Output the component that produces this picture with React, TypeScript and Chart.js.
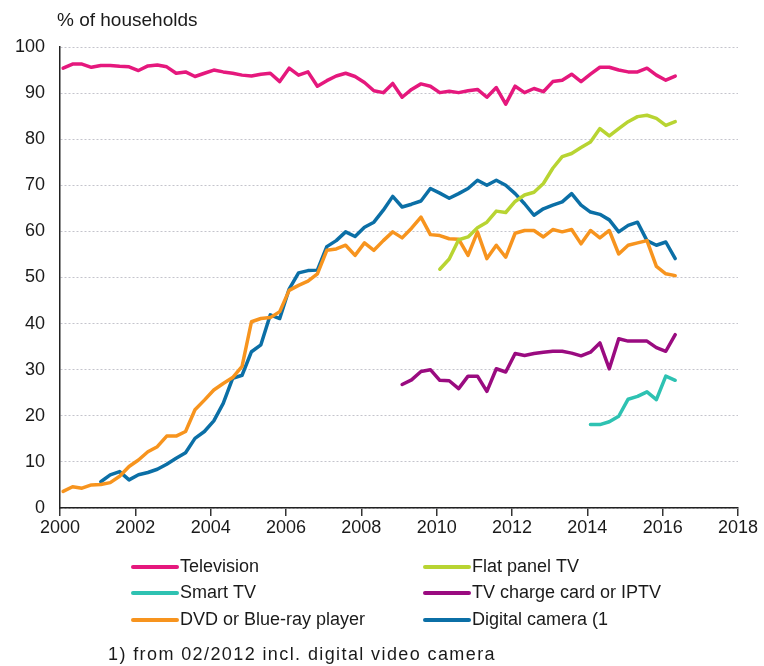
import React, { useEffect, useRef } from 'react';
import { Chart, registerables } from 'chart.js';

Chart.register(...registerables);

// ---- Data ----
const QUARTER_MONTHS = [2, 5, 8, 11];
const FIRST_YEAR = 2000;
const LAST_PERIOD = '2016-05';
const PERIODS: string[] = [];
for (let y = FIRST_YEAR; y <= 2016; y++) {
  for (const m of QUARTER_MONTHS) {
    const p = `${y}-${String(m).padStart(2, '0')}`;
    if (PERIODS.length && PERIODS[PERIODS.length - 1] === LAST_PERIOD) break;
    PERIODS.push(p);
  }
}

const X_TICKS = [2000, 2002, 2004, 2006, 2008, 2010, 2012, 2014, 2016, 2018];
const Y_TITLE = '% of households';
const FOOTNOTE = '1) from 02/2012 incl. digital video camera';

const televisionStart = '2000-02';
const television = [
  95.4, 96.3, 96.3, 95.6, 96.0, 96.0, 95.8, 95.7, 94.9, 95.9,
  96.1, 95.7, 94.3, 94.6, 93.6, 94.3, 95.0, 94.6, 94.3, 93.9,
  93.7, 94.1, 94.3, 92.5, 95.4, 93.9, 94.6, 91.5, 92.7, 93.7,
  94.3, 93.6, 92.3, 90.5, 90.1, 92.1, 89.1, 90.8, 92.0, 91.5,
  90.1, 90.4, 90.1, 90.5, 90.8, 89.1, 91.2, 87.6, 91.5, 90.1,
  91.0, 90.3, 92.5, 92.8, 94.1, 92.5, 94.1, 95.6, 95.6, 95.0,
  94.6, 94.6, 95.4, 93.9, 92.8, 93.7,
];

const flatPanelStart = '2010-02';
const flatPanel = [
  51.8, 54.0, 58.2, 58.8, 60.8, 62.0, 64.4, 64.1, 66.5, 67.9,
  68.5, 70.4, 73.7, 76.2, 76.9, 78.2, 79.4, 82.3, 80.7, 82.3,
  83.8, 84.9, 85.2, 84.5, 83.0, 83.8,
];

const smartTvStart = '2014-02';
const smartTv = [18.1, 18.1, 18.7, 19.9, 23.6, 24.2, 25.2, 23.5, 28.6, 27.7];

const chargeCardStart = '2009-02';
const chargeCard = [
  26.8, 27.8, 29.6, 30.0, 27.7, 27.6, 25.9, 28.6, 28.6, 25.3,
  30.2, 29.5, 33.5, 33.1, 33.5, 33.8, 34.0, 34.0, 33.6, 33.0,
  33.8, 35.8, 30.2, 36.7, 36.2, 36.2, 36.2, 34.8, 34.0, 37.6,
];

const dvdStart = '2000-02';
const dvd = [
  3.6, 4.6, 4.3, 5.0, 5.1, 5.5, 6.9, 9.0, 10.4, 12.2,
  13.3, 15.6, 15.6, 16.6, 21.3, 23.4, 25.6, 27.0, 28.3, 30.7,
  40.4, 41.1, 41.3, 42.6, 47.2, 48.3, 49.2, 50.8, 55.9, 56.2,
  57.0, 54.8, 57.5, 55.9, 58.0, 59.9, 58.6, 60.7, 63.1, 59.3,
  59.1, 58.4, 58.3, 54.8, 59.9, 54.1, 57.0, 54.4, 59.6, 60.2,
  60.2, 58.8, 60.4, 59.9, 60.4, 57.3, 60.2, 58.6, 60.2, 55.1,
  57.0, 57.5, 58.0, 52.4, 50.8, 50.4,
];

const cameraStart = '2001-02';
const camera = [
  5.7, 7.2, 7.9, 6.1, 7.2, 7.7, 8.4, 9.5, 10.8, 12.0,
  15.1, 16.6, 18.9, 22.7, 28.1, 28.8, 33.9, 35.4, 41.9, 41.1,
  47.5, 51.0, 51.5, 51.6, 56.7, 58.0, 59.9, 58.9, 60.9, 62.0,
  64.6, 67.6, 65.3, 65.9, 66.6, 69.3, 68.3, 67.2, 68.2, 69.3,
  71.1, 70.0, 71.1, 70.0, 68.2, 66.0, 63.5, 64.9, 65.7, 66.4,
  68.2, 65.7, 64.2, 63.7, 62.5, 59.9, 61.3, 62.0, 58.0, 57.0,
  57.7, 54.1,
];

const SERIES = [
  { label: 'Television', start: televisionStart, values: television, color: '#e5187d', col: 0, row: 0 },
  { label: 'Flat panel TV', start: flatPanelStart, values: flatPanel, color: '#b8d432', col: 1, row: 0 },
  { label: 'Smart TV', start: smartTvStart, values: smartTv, color: '#2ec2b2', col: 0, row: 1 },
  { label: 'TV charge card or IPTV', start: chargeCardStart, values: chargeCard, color: '#9a0b80', col: 1, row: 1 },
  { label: 'DVD or Blue-ray player', start: dvdStart, values: dvd, color: '#f7941e', col: 0, row: 2 },
  { label: 'Digital camera (1', start: cameraStart, values: camera, color: '#0b6fa6', col: 1, row: 2 },
];

function periodToYear(p: string): number {
  const [y, m] = p.split('-').map(Number);
  return y + (m - 1) / 12;
}

function toPoints(start: string, values: number[]) {
  const s = PERIODS.indexOf(start);
  return values.map((v, k) => ({ x: periodToYear(PERIODS[s + k]), y: v }));
}

const FONT = '"Liberation Sans", Arial, Helvetica, sans-serif';
const TEXT_COLOR = '#1a1a1a';

const textPlugin = {
  id: 'extraTexts',
  afterDraw(chart: any) {
    const ctx = chart.ctx as any;
    ctx.save();
    ctx.fillStyle = TEXT_COLOR;
    ctx.textBaseline = 'middle';
    ctx.textAlign = 'left';
    ctx.font = `19px ${FONT}`;
    ctx.fillText(Y_TITLE, 57, 21);

    ctx.font = `18px ${FONT}`;
    const colX = [133, 425];
    const rowY = [567, 593, 620];
    SERIES.forEach((s) => {
      const x = colX[s.col];
      const y = rowY[s.row];
      ctx.strokeStyle = s.color;
      ctx.lineWidth = 4;
      ctx.lineCap = 'round';
      ctx.beginPath();
      ctx.moveTo(x, y);
      ctx.lineTo(x + 44, y);
      ctx.stroke();
      ctx.fillStyle = TEXT_COLOR;
      ctx.fillText(s.label, x + 47, y);
    });
    if ('letterSpacing' in ctx) ctx.letterSpacing = '1.4px';
    ctx.fillText(FOOTNOTE, 108, 655);
    ctx.restore();
  },
};

export default function App() {
  const ref = useRef<HTMLCanvasElement | null>(null);

  useEffect(() => {
    document.body.style.margin = '0';
    document.body.style.overflow = 'hidden';
    const canvas = ref.current;
    if (!canvas) return;
    const chart = new Chart(canvas, {
      type: 'line',
      data: {
        datasets: SERIES.map((s) => ({
          label: s.label,
          data: toPoints(s.start, s.values),
          borderColor: s.color,
          backgroundColor: s.color,
          borderWidth: 3.5,
          pointRadius: 0,
          tension: 0,
          fill: false,
          borderJoinStyle: 'round' as const,
          borderCapStyle: 'round' as const,
        })),
      },
      options: {
        responsive: false,
        animation: false,
        devicePixelRatio: 1,
        layout: { padding: { top: 47, right: 26, bottom: 128, left: 0 } },
        plugins: {
          legend: { display: false },
          tooltip: { enabled: false },
          title: { display: false },
        },
        scales: {
          x: {
            type: 'linear',
            min: 2000,
            max: 2018,
            afterBuildTicks: (scale: any) => {
              scale.ticks = X_TICKS.map((v) => ({ value: v }));
            },
            afterFit: (scale: any) => {
              scale.height = 30;
            },
            ticks: {
              color: TEXT_COLOR,
              font: { family: FONT, size: 18 },
              padding: 1,
              maxRotation: 0,
              autoSkip: false,
              callback: (v: any) => String(v),
            },
            grid: {
              drawOnChartArea: false,
              drawTicks: true,
              tickLength: 8,
              color: '#333333',
              lineWidth: 1.5,
            },
            border: { display: true, color: '#222222', width: 1.5 },
          },
          y: {
            min: 0,
            max: 100,
            afterFit: (scale: any) => {
              scale.width = 60;
            },
            ticks: {
              stepSize: 10,
              color: TEXT_COLOR,
              font: { family: FONT, size: 18 },
              padding: 15,
            },
            grid: {
              drawTicks: false,
              color: '#c4c4cc',
              lineWidth: 1,
            },
            border: { display: true, color: '#222222', width: 1.5, dash: [2, 2] },
          },
        },
      },
      plugins: [textPlugin],
    } as any);
    return () => chart.destroy();
  }, []);

  return <canvas ref={ref} width={764} height={666} style={{ display: 'block' }} />;
}
